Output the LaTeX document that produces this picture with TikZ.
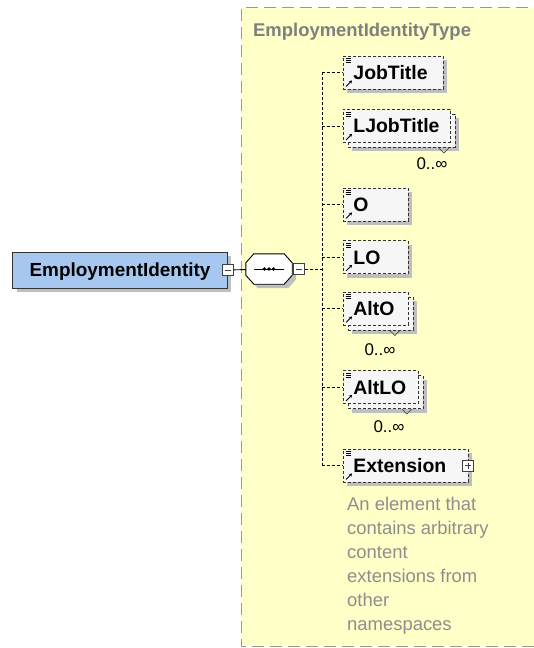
\documentclass[tikz,border=0pt]{standalone}
\usepackage{fontspec}
\setmainfont{Liberation Sans}
\usetikzlibrary{shadows,arrows.meta}

\definecolor{typebg}{HTML}{FFFFC8}
\definecolor{typeline}{HTML}{9A9A8A}
\definecolor{elemfill}{HTML}{F6F6F6}
\definecolor{rootfill}{HTML}{A6C8F0}
\definecolor{typetext}{HTML}{7F7F7F}
\definecolor{doctext}{HTML}{8E8E8E}

\tikzset{
  boxshadow/.style={drop shadow={shadow xshift=4bp,shadow yshift=-4bp,fill=black!25,opacity=1}},
  elem/.style={draw=black!80,line width=0.9bp,dash pattern=on 3bp off 2bp,fill=elemfill,
    anchor=west,minimum height=33bp,inner xsep=10bp,inner ysep=0pt,align=left,
    text height=14bp,text depth=0pt,font=\fontsize{19.5}{21}\selectfont\bfseries},
  link/.style={black,line width=0.9bp,dash pattern=on 3bp off 2bp},
  occurs/.style={font=\fontsize{17}{18}\selectfont,inner sep=0pt},
  notch/.style={black!70,line width=0.7bp},
  minusbox/.style={draw=black!75,fill=white,line width=0.7bp,minimum size=11bp,inner sep=0pt,
    path picture={\draw[line width=0.7bp] ([xshift=2.5bp]path picture bounding box.west)
      -- ([xshift=-2.5bp]path picture bounding box.east);}},
  plusbox/.style={minusbox,
    path picture={\draw[line width=0.7bp] ([xshift=2.5bp]path picture bounding box.west)
      -- ([xshift=-2.5bp]path picture bounding box.east)
      ([yshift=-2.5bp]path picture bounding box.north)
      -- ([yshift=2.5bp]path picture bounding box.south);}}
}

\newcommand{\elemmarks}[1]{%
  \draw[black,line width=0.6bp] ([xshift=3bp,yshift=-3bp]#1.north west) -- ++(5,0)
    ([xshift=3bp,yshift=-5bp]#1.north west) -- ++(5,0)
    ([xshift=3bp,yshift=-7bp]#1.north west) -- ++(5,0);
  \draw[-{Stealth[length=3bp,width=3.5bp]},black,line width=0.8bp]
    ([xshift=3bp,yshift=3bp]#1.south west) -- ++(6,-6);
}

\begin{document}
\begin{tikzpicture}[x=1bp,y=-1bp]
\useasboundingbox (0,0) rectangle (534,648);

\fill[typebg] (241,8) rectangle (534,646);
\draw[typeline,line width=1bp,dash pattern=on 12bp off 6bp] (534,646) -- (241,646) -- (241,8) -- (534,8);
\node[anchor=west,inner sep=0pt,text=typetext,font=\fontsize{18.5}{20}\selectfont\bfseries] (typename) at (253,32) {EmploymentIdentityType};

% root element and sequence
\node[draw=black!80,line width=1bp,fill=rootfill,boxshadow,minimum width=214bp,minimum height=36bp,
  inner sep=0pt,text height=13.5bp,text depth=0pt,font=\fontsize{19}{20}\selectfont\bfseries]
  (empid) at (120,270) {EmploymentIdentity};
\node[minusbox] (empid-t) at (empid.east) {};
\node[inner sep=0pt,minimum width=46bp,minimum height=30bp] (seq) at (269,269) {};
\draw[line width=0.9bp,fill=white,boxshadow] ([xshift=8bp]seq.north west) -- ([xshift=-8bp]seq.north east)
  -- ([yshift=-9bp]seq.north east) -- ([yshift=9bp]seq.south east) -- ([xshift=-8bp]seq.south east)
  -- ([xshift=8bp]seq.south west) -- ([yshift=9bp]seq.south west) -- ([yshift=-9bp]seq.north west) -- cycle;
\draw[line width=0.9bp] ([xshift=-15bp]seq.center) -- ([xshift=15bp]seq.center);
\fill ([xshift=-4.5bp]seq.center) circle (1.8) (seq.center) circle (1.8) ([xshift=4.5bp]seq.center) circle (1.8);
\node[minusbox,anchor=west] (seq-t) at ([xshift=1bp]seq.east) {};
\draw[line width=0.9bp] (empid-t) -- (seq);
\coordinate (trunk) at (322,269);
\draw[link] (seq-t) -- (trunk);

% children
\node[elem,boxshadow,text width=80bp] (jobtitle) at (343,72.5) {JobTitle};
\node[elem,boxshadow,text width=87bp] (ljobtitle-b) at (348,131) {\phantom{L}};
\node[elem,text width=87bp] (ljobtitle) at (343,126) {LJobTitle};
\node[elem,boxshadow,text width=45bp] (o) at (343,204.5) {O};
\node[elem,boxshadow,text width=45bp] (lo) at (343,257) {LO};
\node[elem,boxshadow,text width=45bp] (alto-b) at (348,313.5) {\phantom{A}};
\node[elem,text width=45bp] (alto) at (343,308.5) {AltO};
\node[elem,boxshadow,text width=55bp] (altlo-b) at (348,392) {\phantom{A}};
\node[elem,text width=55bp] (altlo) at (343,387) {AltLO};
\node[elem,boxshadow,text width=105bp] (ext) at (343,465.5) {Extension};
\node[plusbox] (ext-t) at ([xshift=-1bp]ext.east) {};

\foreach \n in {jobtitle,ljobtitle,o,lo,alto,altlo,ext}
  \elemmarks{\n};

\draw[notch] ([xshift=-17bp]ljobtitle-b.south east) -- ++(5,5) -- ++(5,-5);
\draw[notch] ([xshift=-24bp]alto-b.south east) -- ++(5,5) -- ++(5,-5);
\draw[notch] ([xshift=-22bp]altlo-b.south east) -- ++(5,5) -- ++(5,-5);

\node[occurs] (ljobtitle-n) at (432,164) {0..∞};
\node[occurs] (alto-n) at (380,350) {0..∞};
\node[occurs] (altlo-n) at (389,427) {0..∞};

% trunk
\draw[link] (jobtitle.west -| trunk) -- (ext.west -| trunk);
\foreach \n in {jobtitle,ljobtitle,o,lo,alto,altlo,ext}
  \draw[link] (\n.west -| trunk) -- (\n.west);

\node[anchor=north west,inner sep=0pt,align=left,text=doctext,font=\fontsize{18.5}{24}\selectfont]
  (ext-doc) at (347,497) {An element that\\contains arbitrary\\content\\extensions from\\other\\namespaces};
\end{tikzpicture}
\end{document}
